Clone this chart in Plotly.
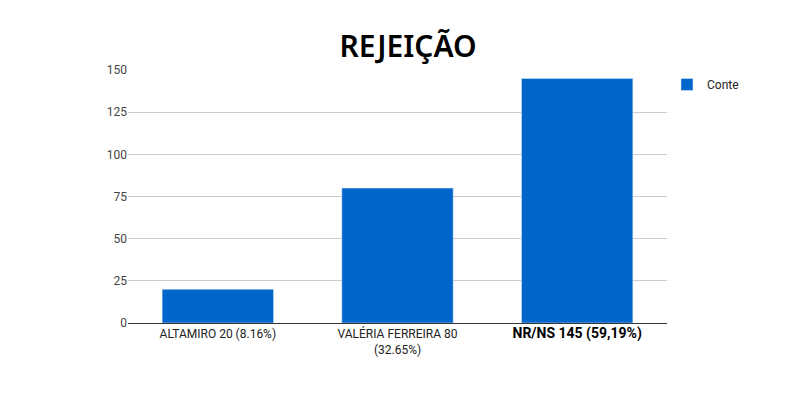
import plotly.graph_objects as go

categories = ["ALTAMIRO 20 (8.16%)", "VALÉRIA FERREIRA 80<br>(32.65%)", "<b>NR/NS 145 (59,19%)</b>"]
values = [20, 80, 145]
tick_vals = [0, 25, 50, 75, 100, 125, 150]

fig = go.Figure()
fig.add_trace(go.Bar(x=categories, y=values, name="Conte", marker_color="#0066cc"))

fig.update_layout(
    width=800, height=400,
    margin=dict(l=120, r=141, t=62, b=85),
    title=dict(text="REJEIÇÃO", x=0.5, xanchor="center", y=0.905, yanchor="middle",
               font=dict(family="Noto Sans", size=30, color="#000", weight=600)),
    font=dict(family="Roboto, Arial", size=12, color="#444"),
    plot_bgcolor="white", paper_bgcolor="white",
    bargap=0.38,
    showlegend=True,
    legend=dict(x=1.0, y=1.0, xanchor="left", yanchor="top", font=dict(size=12, color="#222")),
    xaxis=dict(showline=True, linecolor="#333", ticks="",
               tickfont=dict(size=12, color="#222")),
    yaxis=dict(range=[0, 150], tickvals=tick_vals, gridcolor="#ccc",
               zeroline=False, ticks="", tickfont=dict(color="#444")),
)
fig.update_xaxes(ticktext=[categories[0], categories[1],
                           "<span style='font-size:14px;color:#000'>" + categories[2] + "</span>"],
                 tickvals=categories)

fig.write_html("out.html")
